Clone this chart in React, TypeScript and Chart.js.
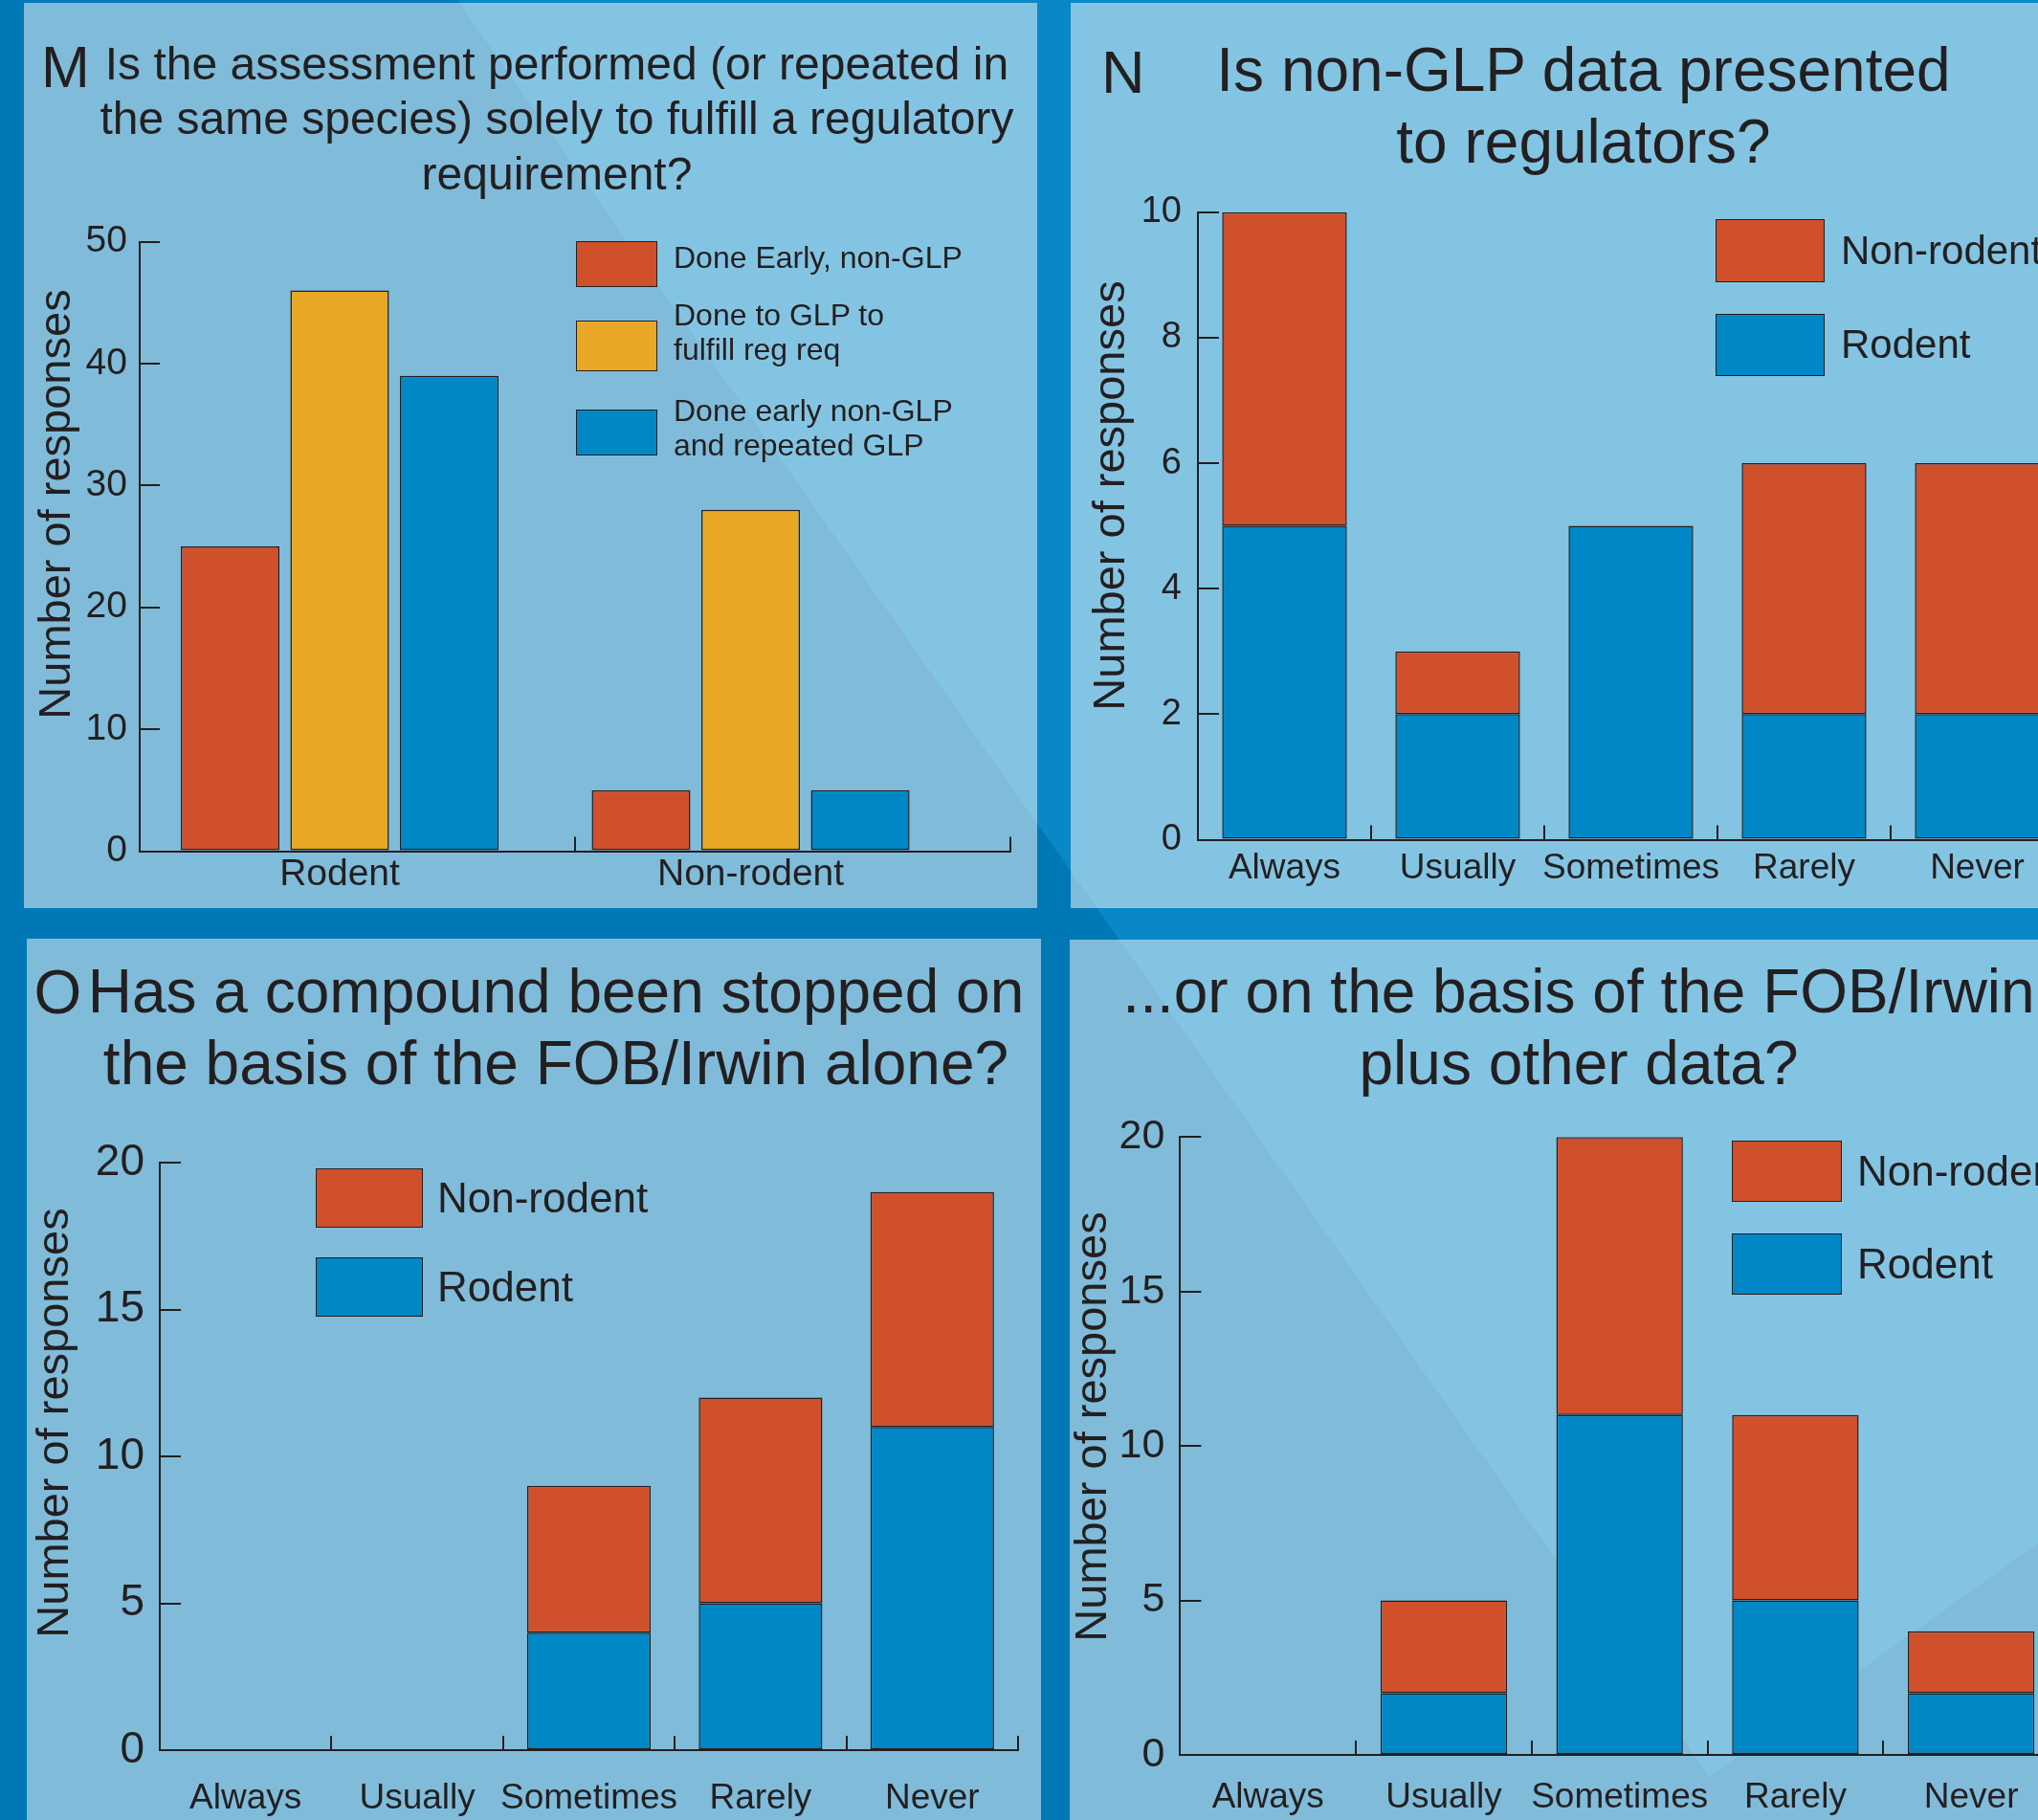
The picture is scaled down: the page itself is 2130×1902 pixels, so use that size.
import React, { useEffect, useRef } from 'react';
import { Chart, registerables } from 'chart.js';

Chart.register(...registerables);

const FONT = '"Liberation Sans", Arial, Helvetica, sans-serif';
const INK = '#231F20';
const RED = '#D0502C';
const YELLOW = '#E8A826';
const BLUE = '#0088C6';
const BG_DARK = 'rgb(0,120,181)';
const BG_LIGHT = 'rgb(8,136,198)';
const PAGE_W = 2130;
const PAGE_H = 1902;

Chart.defaults.font.family = FONT;
Chart.defaults.color = INK;

// ---------- Panel M data ----------
const mCategories = ['Rodent', 'Non-rodent'];
const mEarlyNonGLP = [25, 5];
const mGLPRegReq = [46, 28];
const mEarlyRepeatedGLP = [39, 5];
const mLegendLabels = ['Done Early, non-GLP', 'Done to GLP to fulfill reg req', 'Done early non-GLP and repeated GLP'];
// x axis extent of panel M, in category units (category i sits at value i)
const mAxisMin = -0.4866;
const mAxisMax = 1.632;

// ---------- Frequency categories (N, O, P) ----------
const freqCategories = ['Always', 'Usually', 'Sometimes', 'Rarely', 'Never'];

// Panel N: Is non-GLP data presented to regulators?
const nRodent = [5, 2, 5, 2, 2];
const nNonRodent = [5, 1, 0, 4, 4];

// Panel O: stopped on FOB/Irwin alone
const oRodent = [0, 0, 4, 5, 11];
const oNonRodent = [0, 0, 5, 7, 8];

// Panel P: FOB/Irwin plus other data
const pRodent = [0, 2, 11, 5, 2];
const pNonRodent = [0, 3, 9, 6, 2];

type Area = { left: number; top: number; right: number; bottom: number };

type CfgOpts = {
  labels: string[];
  datasets: any[];
  stacked: boolean;
  yMax: number;
  yStep: number;
  w: number;
  h: number;
  area: Area;
  yFont: number;
  xFont: number;
  yPad: number;
  xPad: number;
  yTick: number;
  xTick: number;
};

const barStyle = {
  borderColor: INK,
  borderWidth: 1.5,
  borderSkipped: false,
  categoryPercentage: 0.8,
  barPercentage: 0.9,
};

function yScale(o: { stacked: boolean; yMax: number; yStep: number; yFont: number; yPad: number; yTick: number; area: Area }): any {
  return {
    stacked: o.stacked,
    min: 0,
    max: o.yMax,
    grid: {
      display: true,
      drawOnChartArea: false,
      drawTicks: true,
      tickLength: -o.yTick,
      tickColor: INK,
      lineWidth: 2,
    },
    border: { display: true, color: INK, width: 2 },
    ticks: {
      stepSize: o.yStep,
      color: INK,
      font: { size: o.yFont, family: FONT },
      padding: o.yPad,
    },
    afterFit: (s: any) => {
      s.width = o.area.left;
    },
  };
}

const baseOptions = (w: number, area: Area) => ({
  responsive: false,
  animation: false,
  devicePixelRatio: 1,
  events: [],
  layout: { padding: { left: 0, top: area.top, right: w - area.right, bottom: 0 } },
  plugins: { legend: { display: false }, tooltip: { enabled: false }, title: { display: false } },
});

function makeStackedConfig(o: CfgOpts): any {
  return {
    type: 'bar',
    data: {
      labels: o.labels,
      datasets: o.datasets.map((d) => ({ ...d, ...barStyle })),
    },
    options: {
      ...baseOptions(o.w, o.area),
      scales: {
        x: {
          stacked: o.stacked,
          offset: true,
          grid: {
            display: true,
            offset: true,
            drawOnChartArea: false,
            drawTicks: true,
            tickLength: -o.xTick,
            tickColor: INK,
            lineWidth: 2,
          },
          border: { display: true, color: INK, width: 2 },
          ticks: {
            color: INK,
            font: { size: o.xFont, family: FONT },
            padding: o.xPad,
            autoSkip: false,
            maxRotation: 0,
            minRotation: 0,
          },
          afterFit: (s: any) => {
            s.height = o.h - o.area.bottom;
          },
        },
        y: yScale(o),
      },
    },
  };
}

function makeGroupedConfigM(w: number, h: number): any {
  const area: Area = { left: 121, top: 249.5, right: 1031, bottom: 886.5 };
  const series = [
    { label: mLegendLabels[0], values: mEarlyNonGLP, color: RED },
    { label: mLegendLabels[1], values: mGLPRegReq, color: YELLOW },
    { label: mLegendLabels[2], values: mEarlyRepeatedGLP, color: BLUE },
  ];
  return {
    type: 'bar',
    data: {
      datasets: series.map((s) => ({
        label: s.label,
        data: s.values.map((v, i) => ({ x: i, y: v })),
        backgroundColor: s.color,
        ...barStyle,
      })),
    },
    options: {
      ...baseOptions(w, area),
      scales: {
        x: {
          type: 'linear',
          position: 'bottom',
          min: mAxisMin,
          max: mAxisMax,
          offset: false,
          afterBuildTicks: (s: any) => {
            s.ticks = mCategories.map((_, i) => ({ value: i }));
          },
          grid: { display: false, drawTicks: false, offset: false },
          border: { display: true, color: INK, width: 2 },
          ticks: {
            color: INK,
            font: { size: 39, family: FONT },
            padding: 1,
            autoSkip: false,
            maxRotation: 0,
            minRotation: 0,
            callback: (_v: any, i: number) => mCategories[i],
          },
          afterFit: (s: any) => {
            s.height = h - area.bottom;
          },
        },
        xMarks: {
          type: 'linear',
          position: 'bottom',
          weight: -1,
          min: mAxisMin,
          max: mAxisMax,
          offset: false,
          afterBuildTicks: (s: any) => {
            s.ticks = [mAxisMin, (mAxisMin + mAxisMax) / 2, mAxisMax].map((v) => ({ value: v }));
          },
          ticks: { display: false },
          grid: {
            display: true,
            offset: false,
            drawOnChartArea: false,
            drawTicks: true,
            tickLength: -15,
            tickColor: INK,
            lineWidth: 2,
          },
          border: { display: false },
          afterFit: (s: any) => {
            s.height = 0;
          },
        },
        y: yScale({ stacked: false, yMax: 50, yStep: 10, yFont: 39, yPad: 34, yTick: 21, area }),
      },
    },
  };
}

function ChartBox(props: { x: number; y: number; w: number; h: number; build: () => any }) {
  const ref = useRef<HTMLCanvasElement | null>(null);
  useEffect(() => {
    if (!ref.current) return;
    const chart = new Chart(ref.current, props.build());
    return () => chart.destroy();
  }, []);
  return (
    <canvas
      ref={ref}
      width={props.w}
      height={props.h}
      style={{ position: 'absolute', left: props.x, top: props.y, width: props.w, height: props.h }}
    />
  );
}

function split(w: number, h: number, p1: number[], p2: number[], colA: string, colB: string) {
  const vx = p2[0] - p1[0];
  const vy = p2[1] - p1[1];
  const L = Math.hypot(vx, vy);
  const nx = -vy / L;
  const ny = vx / L;
  const theta = (Math.atan2(nx, -ny) * 180) / Math.PI;
  const len = Math.abs(w * nx) + Math.abs(h * ny);
  const pos = len / 2 + (p1[0] - w / 2) * nx + (p1[1] - h / 2) * ny;
  return `linear-gradient(${theta}deg, ${colA} ${pos}px, ${colB} ${pos}px)`;
}

const pageBg =
  split(PAGE_W, PAGE_H, [2130, 1613], [1723, 1902], BG_DARK, 'rgba(0,0,0,0)') +
  ', ' +
  split(PAGE_W, PAGE_H, [480, 3], [1818, 1902], BG_LIGHT, BG_DARK);

const abs = (s: any): any => ({ position: 'absolute', whiteSpace: 'nowrap', ...s });

function Panel(p: { x: number; y: number; w: number; h: number }) {
  return <div style={abs({ left: p.x, top: p.y, width: p.w, height: p.h, background: 'rgba(255,255,255,0.5)' })} />;
}

function Title(p: { cx: number; top: number; size: number; lh: number; lines: string[] }) {
  return (
    <div style={abs({ left: p.cx - 700, width: 1400, top: p.top, fontSize: p.size, lineHeight: `${p.lh}px`, textAlign: 'center' })}>
      {p.lines.map((l, i) => (
        <div key={i}>{l}</div>
      ))}
    </div>
  );
}

function YTitle(p: { cx: number; cy: number }) {
  return (
    <div
      style={abs({
        left: p.cx - 300,
        top: p.cy - 30,
        width: 600,
        height: 60,
        lineHeight: '60px',
        fontSize: 47,
        textAlign: 'center',
        transform: 'rotate(-90deg)',
      })}
    >
      Number of responses
    </div>
  );
}

function LegendItem(p: { x: number; y: number; w: number; h: number; color: string; tx: number; size: number; text: string }) {
  return (
    <>
      <div
        style={abs({
          left: p.x,
          top: p.y,
          width: p.w,
          height: p.h,
          background: p.color,
          border: `1.5px solid ${INK}`,
          boxSizing: 'border-box',
        })}
      />
      <div style={abs({ left: p.tx, top: p.y, height: p.h, display: 'flex', alignItems: 'center', fontSize: p.size })}>{p.text}</div>
    </>
  );
}

function Letter(p: { x: number; baseline: number; size: number; ch: string }) {
  return (
    <div style={abs({ left: p.x, top: p.baseline - 0.8465 * p.size, fontSize: p.size, lineHeight: `${p.size}px` })}>{p.ch}</div>
  );
}

export default function App() {
  const M = { x: 25, y: 3, w: 1059, h: 946 };
  const N = { x: 1119, y: 3, w: 1111, h: 946 };
  const O = { x: 28, y: 981, w: 1060, h: 921 };
  const P = { x: 1118, y: 982, w: 1112, h: 920 };

  return (
    <div
      style={{
        position: 'fixed',
        left: 0,
        top: 0,
        width: PAGE_W,
        height: PAGE_H,
        overflow: 'hidden',
        background: pageBg,
        fontFamily: FONT,
        color: INK,
      }}
    >
      <Panel x={25} y={3} w={1059} h={946} />
      <Panel x={1119} y={3} w={1011} h={946} />
      <Panel x={28} y={981} w={1060} h={921} />
      <Panel x={1118} y={982} w={1012} h={920} />

      <ChartBox {...M} build={() => makeGroupedConfigM(M.w, M.h)} />
      <ChartBox
        {...N}
        build={() =>
          makeStackedConfig({
            labels: freqCategories,
            datasets: [
              { label: 'Rodent', data: nRodent, backgroundColor: BLUE },
              { label: 'Non-rodent', data: nNonRodent, backgroundColor: RED },
            ],
            stacked: true,
            yMax: 10,
            yStep: 2,
            w: N.w,
            h: N.h,
            area: { left: 133, top: 218.7, right: 1038, bottom: 874.5 },
            yFont: 38,
            xFont: 37,
            yPad: 39,
            xPad: 23,
            yTick: 22,
            xTick: 15,
          })
        }
      />
      <ChartBox
        {...O}
        build={() =>
          makeStackedConfig({
            labels: freqCategories,
            datasets: [
              { label: 'Rodent', data: oRodent, backgroundColor: BLUE },
              { label: 'Non-rodent', data: oNonRodent, backgroundColor: RED },
            ],
            stacked: true,
            yMax: 20,
            yStep: 5,
            w: O.w,
            h: O.h,
            area: { left: 139, top: 234, right: 1036, bottom: 848 },
            yFont: 46,
            xFont: 37,
            yPad: 38,
            xPad: 44,
            yTick: 22,
            xTick: 15,
          })
        }
      />
      <ChartBox
        {...P}
        build={() =>
          makeStackedConfig({
            labels: freqCategories,
            datasets: [
              { label: 'Rodent', data: pRodent, backgroundColor: BLUE },
              { label: 'Non-rodent', data: pNonRodent, backgroundColor: RED },
            ],
            stacked: true,
            yMax: 20,
            yStep: 5,
            w: P.w,
            h: P.h,
            area: { left: 115.4, top: 206.3, right: 1034, bottom: 852 },
            yFont: 43,
            xFont: 37,
            yPad: 38,
            xPad: 38,
            yTick: 22,
            xTick: 15,
          })
        }
      />

      {/* Panel letters and titles */}
      <Letter x={43} baseline={92} size={61} ch="M" />
      <Title
        cx={582}
        top={37.5}
        size={48}
        lh={57.5}
        lines={['Is the assessment performed (or repeated in', 'the same species) solely to fulfill a regulatory', 'requirement?']}
      />
      <Letter x={1151} baseline={97} size={63} ch="N" />
      <Title cx={1655} top={36} size={64} lh={75} lines={['Is non-GLP data presented', 'to regulators?']} />
      <Letter x={35.6} baseline={1059} size={64} ch="O" />
      <Title cx={581} top={999.3} size={64} lh={75} lines={['Has a compound been stopped on', 'the basis of the FOB/Irwin alone?']} />
      <Title cx={1650} top={999.3} size={64} lh={75} lines={['...or on the basis of the FOB/Irwin', 'plus other data?']} />

      {/* Y axis titles */}
      <YTitle cx={57} cy={527} />
      <YTitle cx={1159} cy={518} />
      <YTitle cx={55} cy={1487} />
      <YTitle cx={1140} cy={1491} />

      {/* Legend M */}
      <div style={abs({ left: 602, top: 252, width: 85, height: 48, background: RED, border: `1.5px solid ${INK}`, boxSizing: 'border-box' })} />
      <div style={abs({ left: 602, top: 335, width: 85, height: 53, background: YELLOW, border: `1.5px solid ${INK}`, boxSizing: 'border-box' })} />
      <div style={abs({ left: 602, top: 428, width: 85, height: 48, background: BLUE, border: `1.5px solid ${INK}`, boxSizing: 'border-box' })} />
      <div style={abs({ left: 704, top: 251, fontSize: 32, lineHeight: '36px' })}>{mLegendLabels[0]}</div>
      <div style={abs({ left: 704, top: 311, fontSize: 32, lineHeight: '36px' })}>
        <div>Done to GLP to</div>
        <div>fulfill reg req</div>
      </div>
      <div style={abs({ left: 704, top: 411, fontSize: 32, lineHeight: '36px' })}>
        <div>Done early non-GLP</div>
        <div>and repeated GLP</div>
      </div>

      {/* Legend N */}
      <LegendItem x={1793} y={229} w={114} h={65.5} color={RED} tx={1924} size={42} text="Non-rodent" />
      <LegendItem x={1793} y={327.6} w={114} h={65.5} color={BLUE} tx={1924} size={42} text="Rodent" />

      {/* Legend O */}
      <LegendItem x={330} y={1221} w={112} h={62} color={RED} tx={457} size={44} text="Non-rodent" />
      <LegendItem x={330} y={1314} w={112} h={62} color={BLUE} tx={457} size={44} text="Rodent" />

      {/* Legend P */}
      <LegendItem x={1809.5} y={1192} w={115} h={64} color={RED} tx={1941} size={44} text="Non-rodent" />
      <LegendItem x={1809.5} y={1289} w={115} h={64} color={BLUE} tx={1941} size={44} text="Rodent" />
    </div>
  );
}
